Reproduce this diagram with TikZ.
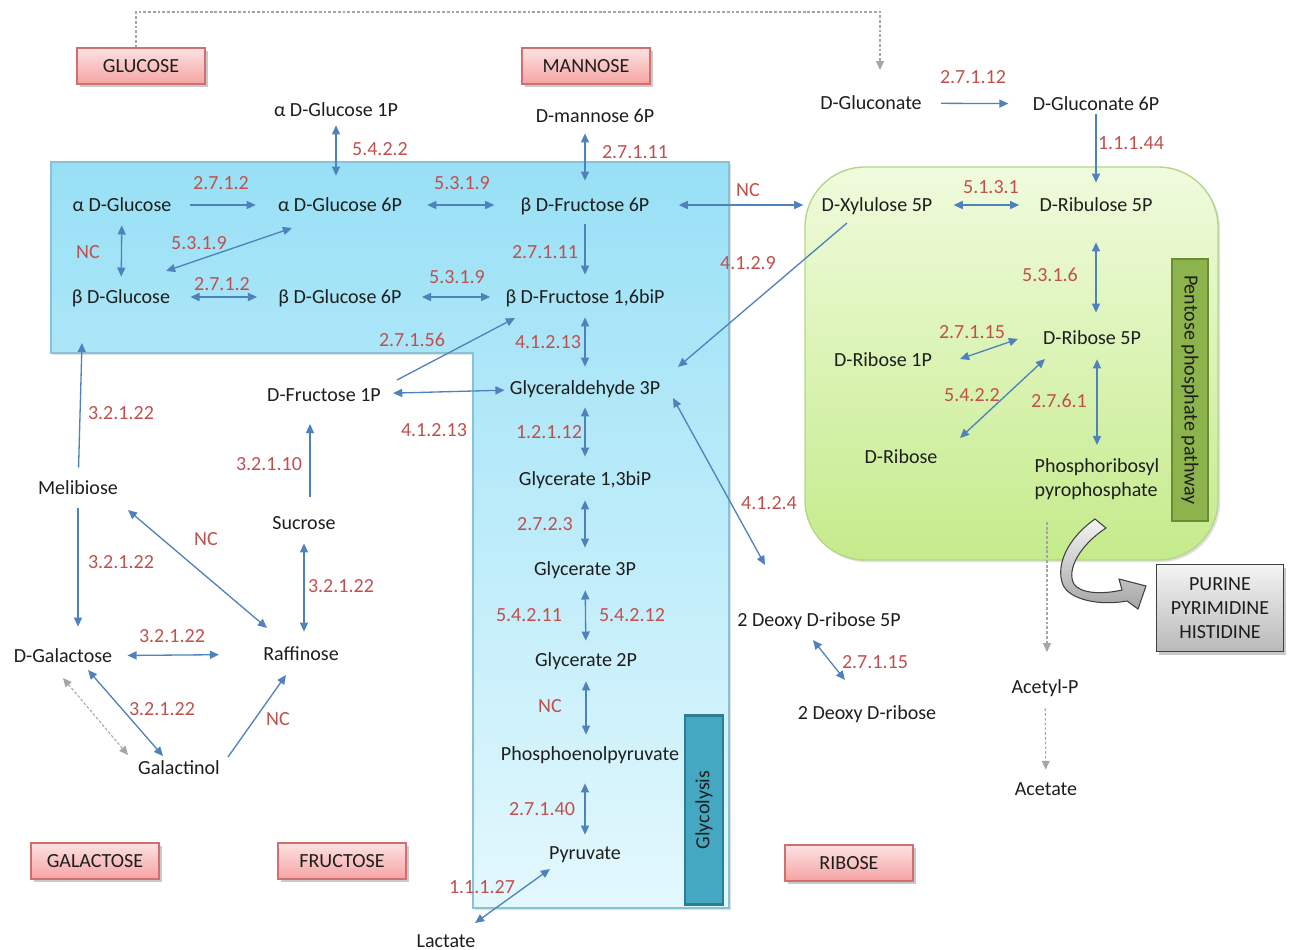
\documentclass[tikz,border=0pt]{standalone}
\usepackage{fontspec}
\setmainfont{Carlito}
\usetikzlibrary{arrows.meta,shadows}
\newdimen\upx
\upx=0.02cm
\definecolor{ectext}{HTML}{C0504D}
\definecolor{flowblue}{HTML}{4F81BD}
\definecolor{mettext}{HTML}{1E1E1E}
\definecolor{glytop}{HTML}{98E0F6}
\definecolor{glybot}{HTML}{E3F8FD}
\definecolor{glyedge}{HTML}{86C3D8}
\definecolor{ppptop}{HTML}{F0FBDD}
\definecolor{pppbot}{HTML}{C5EB8B}
\definecolor{pppedge}{HTML}{B5D68A}
\definecolor{tabgreen}{HTML}{8DB34C}
\definecolor{tabgreenedge}{HTML}{6B8C34}
\definecolor{tabteal}{HTML}{44A8C2}
\definecolor{tabtealedge}{HTML}{2B7E93}
\definecolor{pinktop}{HTML}{FDE2E2}
\definecolor{pinkbot}{HTML}{F5A3A3}
\definecolor{pinkedge}{HTML}{CF7070}
\definecolor{greytop}{HTML}{F4F4F4}
\definecolor{greybot}{HTML}{B9B9B9}
\definecolor{dashgrey}{HTML}{A6A6A6}

\begin{document}
\begin{tikzpicture}[x=0.02cm, y=-0.02cm,
  every node/.style={font=\fontsize{11.4pt}{13.7pt}\selectfont},
  met/.style={inner sep=0pt, text height=15\upx, text depth=3\upx, text=mettext},
  ec/.style={inner sep=0pt, text height=15\upx, text depth=3\upx, text=ectext},
  softshadow/.style={drop shadow={shadow xshift=1.5pt, shadow yshift=-1.8pt, opacity=0.3, fill=black!70}},
  sugarbox/.style={draw=pinkedge, line width=0.7pt, top color=pinktop, bottom color=pinkbot,
    minimum width=128\upx, minimum height=36\upx, inner sep=0pt, text=mettext, softshadow},
  oneway/.style={draw=flowblue, line width=0.75pt, -{Triangle[length=5.2pt,width=4.6pt]}},
  twoway/.style={draw=flowblue, line width=0.75pt, {Triangle[length=5.2pt,width=4.6pt]}-{Triangle[length=5.2pt,width=4.6pt]}},
  greyflow/.style={draw=dashgrey, line width=0.6pt, dash pattern=on 1.6pt off 1.1pt, -{Triangle[length=5pt,width=4.5pt]}},
  greytwoway/.style={greyflow, {Triangle[length=5pt,width=4.5pt]}-{Triangle[length=5pt,width=4.5pt]}},
]
\useasboundingbox (0,0) rectangle (1292,950);

% glycolysis region (L-shaped)
\path[draw=glyedge, line width=0.6pt, top color=glytop, bottom color=glybot,
  drop shadow={shadow xshift=1.2pt, shadow yshift=-1.2pt, opacity=0.2, fill=black!60}]
  (51,162) -- (729,162) -- (729,908) -- (473,908) -- (473,353) -- (51,353) -- cycle;

% pentose phosphate region
\path[draw=pppedge, line width=0.8pt, rounded corners=1.2cm, top color=ppptop, bottom color=pppbot,
  drop shadow={shadow xshift=1.2pt, shadow yshift=-1.2pt, opacity=0.2, fill=black!60}]
  (805,167) rectangle (1218,560);

% pathway tabs
\node[draw=tabgreenedge, line width=1.2pt, fill=tabgreen, rotate=-90, minimum width=262\upx,
  minimum height=36\upx, inner sep=0pt, text=mettext] (ppptab) at (1190,390) {Pentose phosphate pathway};
\node[draw=tabtealedge, line width=1.2pt, fill=tabteal, rotate=90, minimum width=189\upx,
  minimum height=38\upx, inner sep=0pt, text=mettext] (glytab) at (704,810) {Glycolysis};

% curved block arrow towards the nucleotide box
\path[draw=black!75, line width=0.6pt, top color=greytop, bottom color=black!35]
  (1095,519) .. controls (1068,538) and (1055,565) .. (1063,585)
  .. controls (1070,600) and (1100,606) .. (1127,601)
  -- (1138,609) -- (1146,586) -- (1119,579) -- (1122,590)
  .. controls (1100,595) and (1080,593) .. (1074,584)
  .. controls (1066,570) and (1080,545) .. (1106,528) -- cycle;

% sugar boxes
\node[sugarbox] (glcbox) at (141,66) {GLUCOSE};
\node[sugarbox] (manbox) at (586,66) {MANNOSE};
\node[sugarbox] (galbox) at (95,861) {GALACTOSE};
\node[sugarbox] (frubox) at (342,861) {FRUCTOSE};
\node[sugarbox] (ribbox) at (849,863) {RIBOSE};
\node[draw=black!75, line width=0.7pt, top color=greytop, bottom color=greybot, minimum width=127\upx,
  minimum height=87\upx, inner sep=0pt, align=center, text=mettext, softshadow] (nucbox) at (1220,608)
  {PURINE\\PYRIMIDINE\\HISTIDINE};

% metabolites
\node[met] (ag1p) at (336,110) {α D-Glucose 1P};
\node[met] (m6p) at (595,116) {D-mannose 6P};
\node[met] (gln) at (871,103) {D-Gluconate};
\node[met] (gln6p) at (1096,104) {D-Gluconate 6P};
\node[met] (aglc) at (122,205) {α D-Glucose};
\node[met] (ag6p) at (340,205) {α D-Glucose 6P};
\node[met] (f6p) at (585,205) {β D-Fructose 6P};
\node[met] (xyl) at (877,205) {D-Xylulose 5P};
\node[met] (ribu) at (1096,205) {D-Ribulose 5P};
\node[met] (bglc) at (121,297) {β D-Glucose};
\node[met] (bg6p) at (340,297) {β D-Glucose 6P};
\node[met] (f16) at (585,297) {β D-Fructose 1,6biP};
\node[met] (g3p) at (585,388) {Glyceraldehyde 3P};
\node[met] (f1p) at (324,395) {D-Fructose 1P};
\node[met] (r5p) at (1092,338) {D-Ribose 5P};
\node[met] (r1p) at (883,360) {D-Ribose 1P};
\node[met] (drib) at (901,457) {D-Ribose};
\node[inner sep=0pt, align=left, text=mettext] (prpp) at (1097,479) {Phosphoribosyl\\pyrophosphate};
\node[met] (meli) at (78,488) {Melibiose};
\node[met] (g13) at (585,479) {Glycerate 1,3biP};
\node[met] (suc) at (304,523) {Sucrose};
\node[met] (g3) at (585,569) {Glycerate 3P};
\node[met] (d2r5p) at (819,620) {2 Deoxy D-ribose 5P};
\node[met] (dgal) at (63,656) {D-Galactose};
\node[met] (raff) at (301,654) {Raffinose};
\node[met] (g2) at (586,660) {Glycerate 2P};
\node[met] (d2r) at (867,713) {2 Deoxy D-ribose};
\node[met] (acp) at (1045,687) {Acetyl-P};
\node[met] (galn) at (179,768) {Galactinol};
\node[met] (pep) at (590,754) {Phosphoenolpyruvate};
\node[met] (acet) at (1046,789) {Acetate};
\node[met] (pyr) at (585,853) {Pyruvate};
\node[met] (lact) at (446,941) {Lactate};
\coordinate (melitop) at (82,343);
\coordinate (dtop) at (880,12);

% enzyme labels
\node[ec] (e1) at (380,149) {5.4.2.2};
\node[ec] (e2) at (635,152) {2.7.1.11};
\node[ec] (e3) at (973,77) {2.7.1.12};
\node[ec] (e4) at (1131,143) {1.1.1.44};
\node[ec] (e5) at (221,183) {2.7.1.2};
\node[ec] (e6) at (462,183) {5.3.1.9};
\node[ec] (e7) at (748,190) {NC};
\node[ec] (e8) at (991,187) {5.1.3.1};
\node[ec] (e9) at (88,252) {NC};
\node[ec] (e10) at (199,243) {5.3.1.9};
\node[ec] (e11) at (545,252) {2.7.1.11};
\node[ec] (e12) at (748,263) {4.1.2.9};
\node[ec] (e13) at (1050,275) {5.3.1.6};
\node[ec] (e14) at (222,284) {2.7.1.2};
\node[ec] (e15) at (457,277) {5.3.1.9};
\node[ec] (e16) at (412,340) {2.7.1.56};
\node[ec] (e17) at (548,342) {4.1.2.13};
\node[ec] (e18) at (972,332) {2.7.1.15};
\node[ec] (e19) at (121,413) {3.2.1.22};
\node[ec] (e20) at (434,430) {4.1.2.13};
\node[ec] (e21) at (549,432) {1.2.1.12};
\node[ec] (e22) at (972,395) {5.4.2.2};
\node[ec] (e23) at (1059,401) {2.7.6.1};
\node[ec] (e24) at (269,464) {3.2.1.10};
\node[ec] (e25) at (769,503) {4.1.2.4};
\node[ec] (e26) at (206,539) {NC};
\node[ec] (e27) at (545,524) {2.7.2.3};
\node[ec] (e28) at (121,562) {3.2.1.22};
\node[ec] (e29) at (341,586) {3.2.1.22};
\node[ec] (e30) at (529,615) {5.4.2.11};
\node[ec] (e31) at (632,615) {5.4.2.12};
\node[ec] (e32) at (172,636) {3.2.1.22};
\node[ec] (e33) at (875,662) {2.7.1.15};
\node[ec] (e34) at (162,709) {3.2.1.22};
\node[ec] (e35) at (278,719) {NC};
\node[ec] (e36) at (550,706) {NC};
\node[ec] (e37) at (542,809) {2.7.1.40};
\node[ec] (e38) at (482,887) {1.1.1.27};

% horizontal reactions
\draw[oneway, shorten <=18\upx, shorten >=22\upx] (aglc) -- (ag6p);
\draw[twoway, shorten <=25\upx, shorten >=26\upx] (ag6p) -- (f6p);
\draw[twoway, shorten <=29\upx, shorten >=18\upx] (f6p) -- (xyl);
\draw[twoway, shorten <=21\upx, shorten >=20\upx] (xyl) -- (ribu);
\draw[twoway, shorten <=20\upx, shorten >=21\upx] (bglc) -- (bg6p);
\draw[twoway, shorten <=20\upx, shorten >=15\upx] (bg6p) -- (f16);
\draw[oneway, shorten <=19\upx, shorten >=24\upx] (gln) -- (gln6p);
\draw[twoway, shorten <=12\upx, shorten >=5\upx] (f1p) -- (g3p);
\draw[twoway, shorten <=15\upx, shorten >=44\upx] (dgal) -- (raff);

% vertical reactions
\draw[twoway, shorten <=6\upx, shorten >=20\upx] (ag1p) -- (ag1p |- ag6p.north);
\draw[twoway, shorten <=11\upx, shorten >=11\upx] (aglc) -- (bglc);
\draw[twoway, shorten <=8\upx, shorten >=15\upx] (m6p.south -| f6p) -- (f6p);
\draw[oneway, shorten <=10\upx, shorten >=13\upx] (f6p) -- (f16);
\draw[twoway, shorten <=11\upx, shorten >=12\upx] (f16) -- (g3p);
\draw[twoway, shorten <=10\upx, shorten >=13\upx] (g3p) -- (g13);
\draw[twoway, shorten <=12\upx, shorten >=12\upx] (g13) -- (g3);
\draw[twoway, shorten <=12\upx, shorten >=10\upx] (g3) -- (g2);
\draw[twoway, shorten <=12\upx, shorten >=10\upx] (g2) -- (g2 |- pep.north);
\draw[twoway, shorten <=20\upx, shorten >=9\upx] (pep.south -| pyr) -- (pyr);
\draw[oneway, shorten <=1\upx, shorten >=13\upx] (gln6p) -- (ribu);
\draw[twoway, shorten <=28\upx, shorten >=16\upx] (ribu) -- (ribu |- r5p.north);
\draw[twoway, shorten <=12\upx, shorten >=13\upx] (r5p.south -| prpp) -- (prpp);
\draw[oneway, shorten <=11\upx] (meli) -- (melitop);
\draw[oneway, shorten <=11\upx, shorten >=20\upx] (meli) -- (meli |- dgal.north);
\draw[twoway, shorten <=13\upx, shorten >=11\upx] (raff.north -| suc) -- (suc);
\draw[oneway] ([shift={(6,-26)}]suc.center) -- ([shift={(-14,29)}]f1p.center);

% oblique reactions
\draw[twoway] ([shift={(45,-26)}]bglc.center) -- ([shift={(-48,23)}]ag6p.center);
\draw[oneway] ([shift={(73,-15)}]f1p.center) -- ([shift={(-70,21)}]f16.center);
\draw[oneway] ([shift={(-30,18)}]xyl.center) -- ([shift={(93,-21)}]g3p.center);
\draw[twoway] ([shift={(88,10)}]g3p.center) -- ([shift={(-54,-55)}]d2r5p.center);
\draw[twoway] ([shift={(-6,20)}]d2r5p.center) -- ([shift={(-22,-33)}]d2r.center);
\draw[twoway] ([shift={(-74,1)}]r5p.center) -- ([shift={(77,-1)}]r1p.center);
\draw[twoway] ([shift={(-47,21)}]r5p.center) -- ([shift={(59,-19)}]drib.center);
\draw[twoway] ([shift={(-35,16)}]pyr.center) -- ([shift={(29,-18)}]lact.center);
\draw[twoway] ([shift={(50,22)}]meli.center) -- ([shift={(-34,-26)}]raff.center);
\draw[twoway] ([shift={(25,14)}]dgal.center) -- ([shift={(-16,-12)}]galn.center);
\draw[oneway] ([shift={(49,-11)}]galn.center) -- ([shift={(-15,21)}]raff.center);

% dotted grey links
\draw[greyflow] ([shift={(-5,0)}]glcbox.north) |- (dtop) -- ([shift={(9,-33)}]gln.center);
\draw[greytwoway] ([shift={(0,22)}]dgal.center) -- ([shift={(-51,-13)}]galn.center);
\draw[greyflow] ([shift={(-50,43)}]prpp.center) -- ([shift={(2,-35)}]acp.center);
\draw[greyflow, shorten <=12\upx, shorten >=10\upx] (acp) -- (acet);
\end{tikzpicture}
\end{document}
